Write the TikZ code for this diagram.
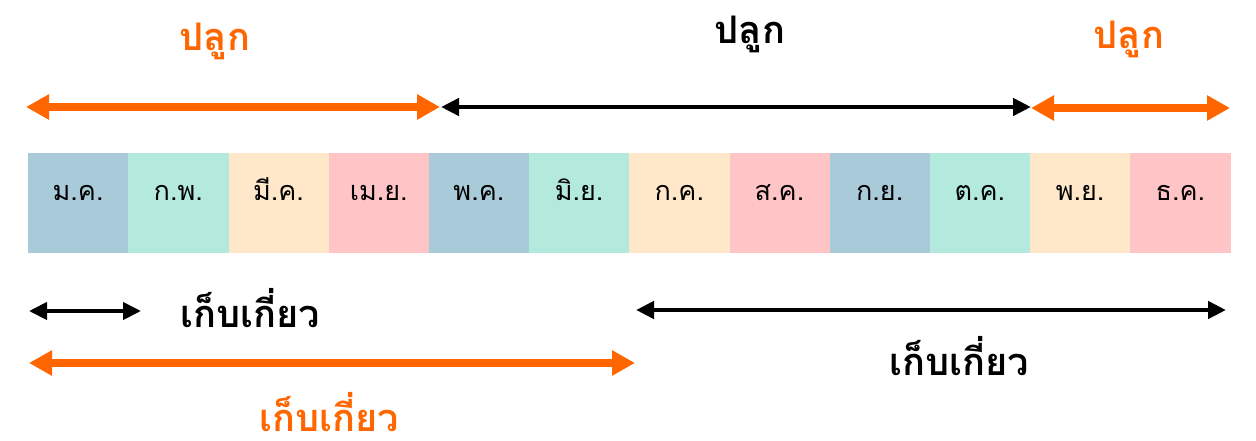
\documentclass[tikz,border=0pt]{standalone}
\usepackage{fontspec}
\newfontfamily\thaifont[Script=Thai]{Loma}
\usetikzlibrary{arrows.meta}
\definecolor{cblue}{HTML}{A9CAD8}
\definecolor{cmint}{HTML}{B4EADE}
\definecolor{ccream}{HTML}{FFE8C9}
\definecolor{cpink}{HTML}{FFC4C6}
\definecolor{corange}{HTML}{FF6600}
\tikzset{
  month/.style={draw=none,minimum width=100.2pt,minimum height=100pt,inner sep=0pt,anchor=north west},
  mlabel/.style={font=\thaifont\fontsize{27}{27}\selectfont,anchor=base,inner sep=0pt},
  biglabel/.style={font=\thaifont\bfseries\fontsize{38}{38}\selectfont,anchor=base,inner sep=0pt},
  oarrow/.style={draw=corange,line width=8pt,{Triangle[length=23pt,width=24pt]}-{Triangle[length=23pt,width=24pt]},corange},
  barrow/.style={draw=black,line width=4.5pt,{Triangle[length=18pt,width=17pt]}-{Triangle[length=18pt,width=17pt]}},
}
\begin{document}
\begin{tikzpicture}[x=1pt,y=-1pt]
\useasboundingbox (0,0) rectangle (1256,440);
% month boxes
\foreach \i/\c/\t in {0/cblue/ม.ค.,1/cmint/ก.พ.,2/ccream/มี.ค.,3/cpink/เม.ย.,4/cblue/พ.ค.,5/cmint/มิ.ย.,6/ccream/ก.ค.,7/cpink/ส.ค.,8/cblue/ก.ย.,9/cmint/ต.ค.,10/ccream/พ.ย.,11/cpink/ธ.ค.}{
  \node[month,fill=\c] (m\i) at ({28+\i*100.2},153) {};
  \node[mlabel] (t\i) at ({78.1+\i*100.2},200) {\t};
}
% top arrows
\coordinate (a1) at (26,107);
\coordinate (a2) at (440,107);
\coordinate (a3) at (441,107);
\coordinate (a4) at (1031,107);
\coordinate (a5) at (1031,108);
\coordinate (a6) at (1230,108);
\draw[oarrow] (a1) -- (a2);
\draw[barrow] (a3) -- (a4);
\draw[oarrow] (a5) -- (a6);
\node[biglabel,text=corange] (p1) at (215,50) {ปลูก};
\node[biglabel,text=black] (p2) at (750,43) {ปลูก};
\node[biglabel,text=corange] (p3) at (1129,48) {ปลูก};
% bottom arrows
\coordinate (b1) at (29,311);
\coordinate (b2) at (141,311);
\coordinate (b3) at (29,363);
\coordinate (b4) at (635,363);
\coordinate (b5) at (636,310);
\coordinate (b6) at (1226,310);
\draw[barrow,line width=4pt] (b1) -- (b2);
\draw[oarrow] (b3) -- (b4);
\draw[barrow] (b5) -- (b6);
\node[biglabel,text=black] (h1) at (250,327) {เก็บเกี่ยว};
\node[biglabel,text=black] (h2) at (959,375) {เก็บเกี่ยว};
\node[biglabel,text=corange] (h3) at (329,431) {เก็บเกี่ยว};
\end{tikzpicture}
\end{document}
